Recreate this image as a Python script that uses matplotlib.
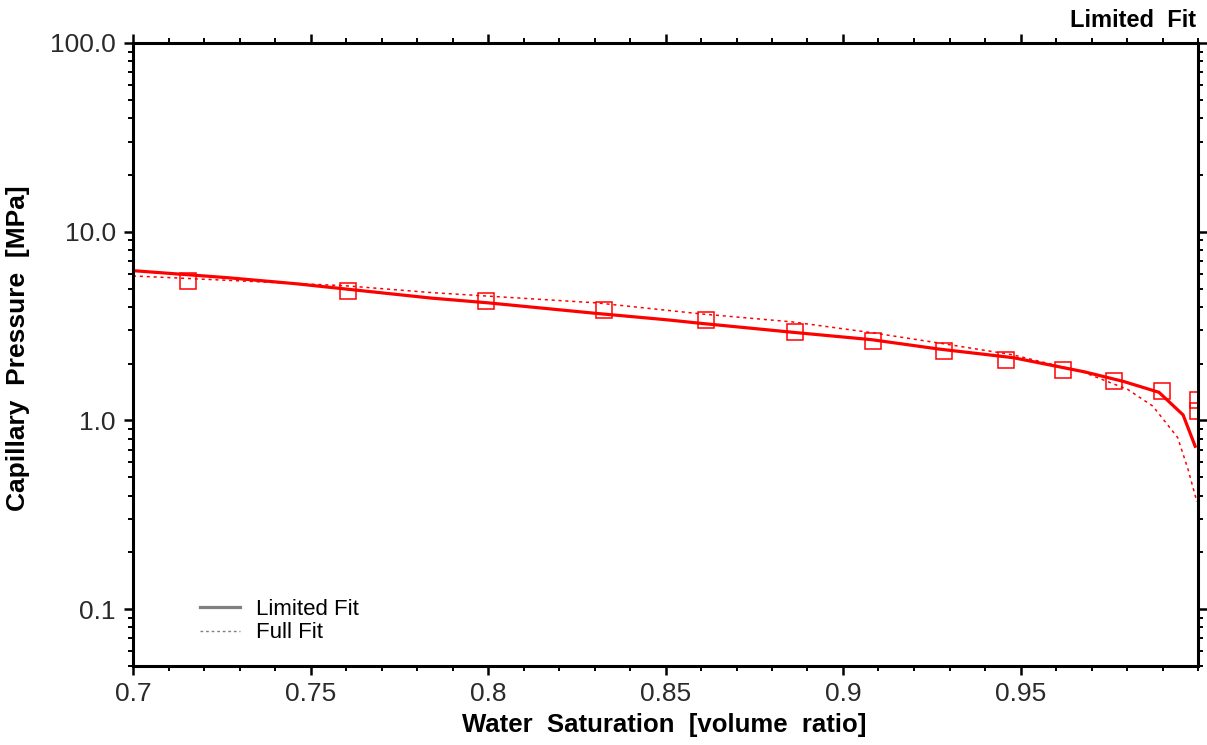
import matplotlib
matplotlib.use("Agg")
import matplotlib.pyplot as plt
from matplotlib.ticker import FixedLocator, LogLocator, NullFormatter
from matplotlib.lines import Line2D

plt.rcParams['font.family'] = ['Liberation Sans', 'DejaVu Sans']

# Measured data (squares)
sw_data = [0.7155, 0.7605, 0.7994, 0.8328, 0.8613, 0.8864, 0.9085, 0.9285,
           0.9460, 0.9621, 0.9763, 0.9898, 1.0, 1.0]
pc_data = [5.51, 4.88, 4.27, 3.83, 3.39, 2.96, 2.65, 2.34,
           2.10, 1.84, 1.61, 1.43, 1.29, 1.12]

# Limited fit curve (solid)
sw_limited = [0.700, 0.727, 0.746, 0.784, 0.800, 0.830, 0.850, 0.860, 0.886, 0.908,
              0.927, 0.948, 0.968, 0.979, 0.989, 0.9958, 0.9992]
pc_limited = [6.22, 5.70, 5.30, 4.45, 4.20, 3.70, 3.42, 3.27, 2.93, 2.68,
              2.39, 2.15, 1.81, 1.61, 1.41, 1.07, 0.73]

# Full fit curve (dotted)
sw_full = [0.700, 0.760, 0.784, 0.8305, 0.860, 0.8856, 0.908, 0.9266, 0.9477,
           0.9675, 0.9802, 0.9873, 0.9943, 0.9972, 0.9997]
pc_full = [5.83, 5.17, 4.76, 4.20, 3.67, 3.33, 2.92, 2.58, 2.23,
           1.81, 1.46, 1.19, 0.81, 0.55, 0.37]

x_ticks = [0.7, 0.75, 0.8, 0.85, 0.9, 0.95]
x_tick_labels = ["0.7", "0.75", "0.8", "0.85", "0.9", "0.95"]
y_ticks = [0.1, 1.0, 10.0, 100.0]
y_tick_labels = ["0.1", "1.0", "10.0", "100.0"]

fig = plt.figure(figsize=(12.07, 7.45), dpi=100)
ax = fig.add_axes([133/1207, 1-666/745, (1198-133)/1207, (666-43)/745])

ax.plot(sw_full, pc_full, color='red', lw=1.1, ls=(0, (2, 2.5)))
ax.plot(sw_limited, pc_limited, color='red', lw=2.3, solid_joinstyle='round')
ax.plot(sw_data, pc_data, ls='none', marker='s', ms=11, mfc='none', mec='red', mew=1.1)

ax.set_yscale('log')
ax.set_xlim(0.7, 1.0)
ax.set_ylim(0.05, 100)

ax.xaxis.set_major_locator(FixedLocator(x_ticks))
ax.set_xticklabels(x_tick_labels)
ax.xaxis.set_minor_locator(FixedLocator([0.7 + 0.01*i for i in range(31)]))
ax.yaxis.set_major_locator(FixedLocator(y_ticks))
ax.set_yticklabels(y_tick_labels)
ax.yaxis.set_minor_locator(LogLocator(base=10, subs=range(2, 10)))
ax.yaxis.set_minor_formatter(NullFormatter())

for s in ax.spines.values():
    s.set_linewidth(2.2)

ax.tick_params(which='both', direction='out', top=True, right=True,
               labeltop=False, labelright=False, labelsize=19, labelcolor='#2a2a2a')
ax.tick_params(which='major', length=6.5, width=1.8)
ax.tick_params(which='minor', length=3.6, width=1.4)
ax.tick_params(axis='x', which='major', pad=5)
ax.tick_params(axis='y', which='major', pad=6)

fig.text(664/1207, 1-725/745, "Water  Saturation  [volume  ratio]", ha='center', va='center',
         fontsize=18.5, fontweight='bold')
fig.text(18/1207, 1-348/745, "Capillary  Pressure  [MPa]", ha='center', va='center',
         rotation=90, fontsize=19, fontweight='bold')
fig.text(1196/1207, 1-27/745, "Limited  Fit", ha='right', va='baseline',
         fontsize=17, fontweight='bold')

handles = [Line2D([], [], color='#808080', lw=2.3),
           Line2D([], [], color='#808080', lw=1.0, ls=(0, (2, 2)))]
leg = ax.legend(handles, ["Limited Fit", "Full Fit"], loc='lower left',
                bbox_to_anchor=(0.055, 0.022), frameon=False, fontsize=16,
                handlelength=1.8, handletextpad=0.7, labelspacing=0.1,
                borderaxespad=0)

fig.savefig("out.png", dpi=100)
